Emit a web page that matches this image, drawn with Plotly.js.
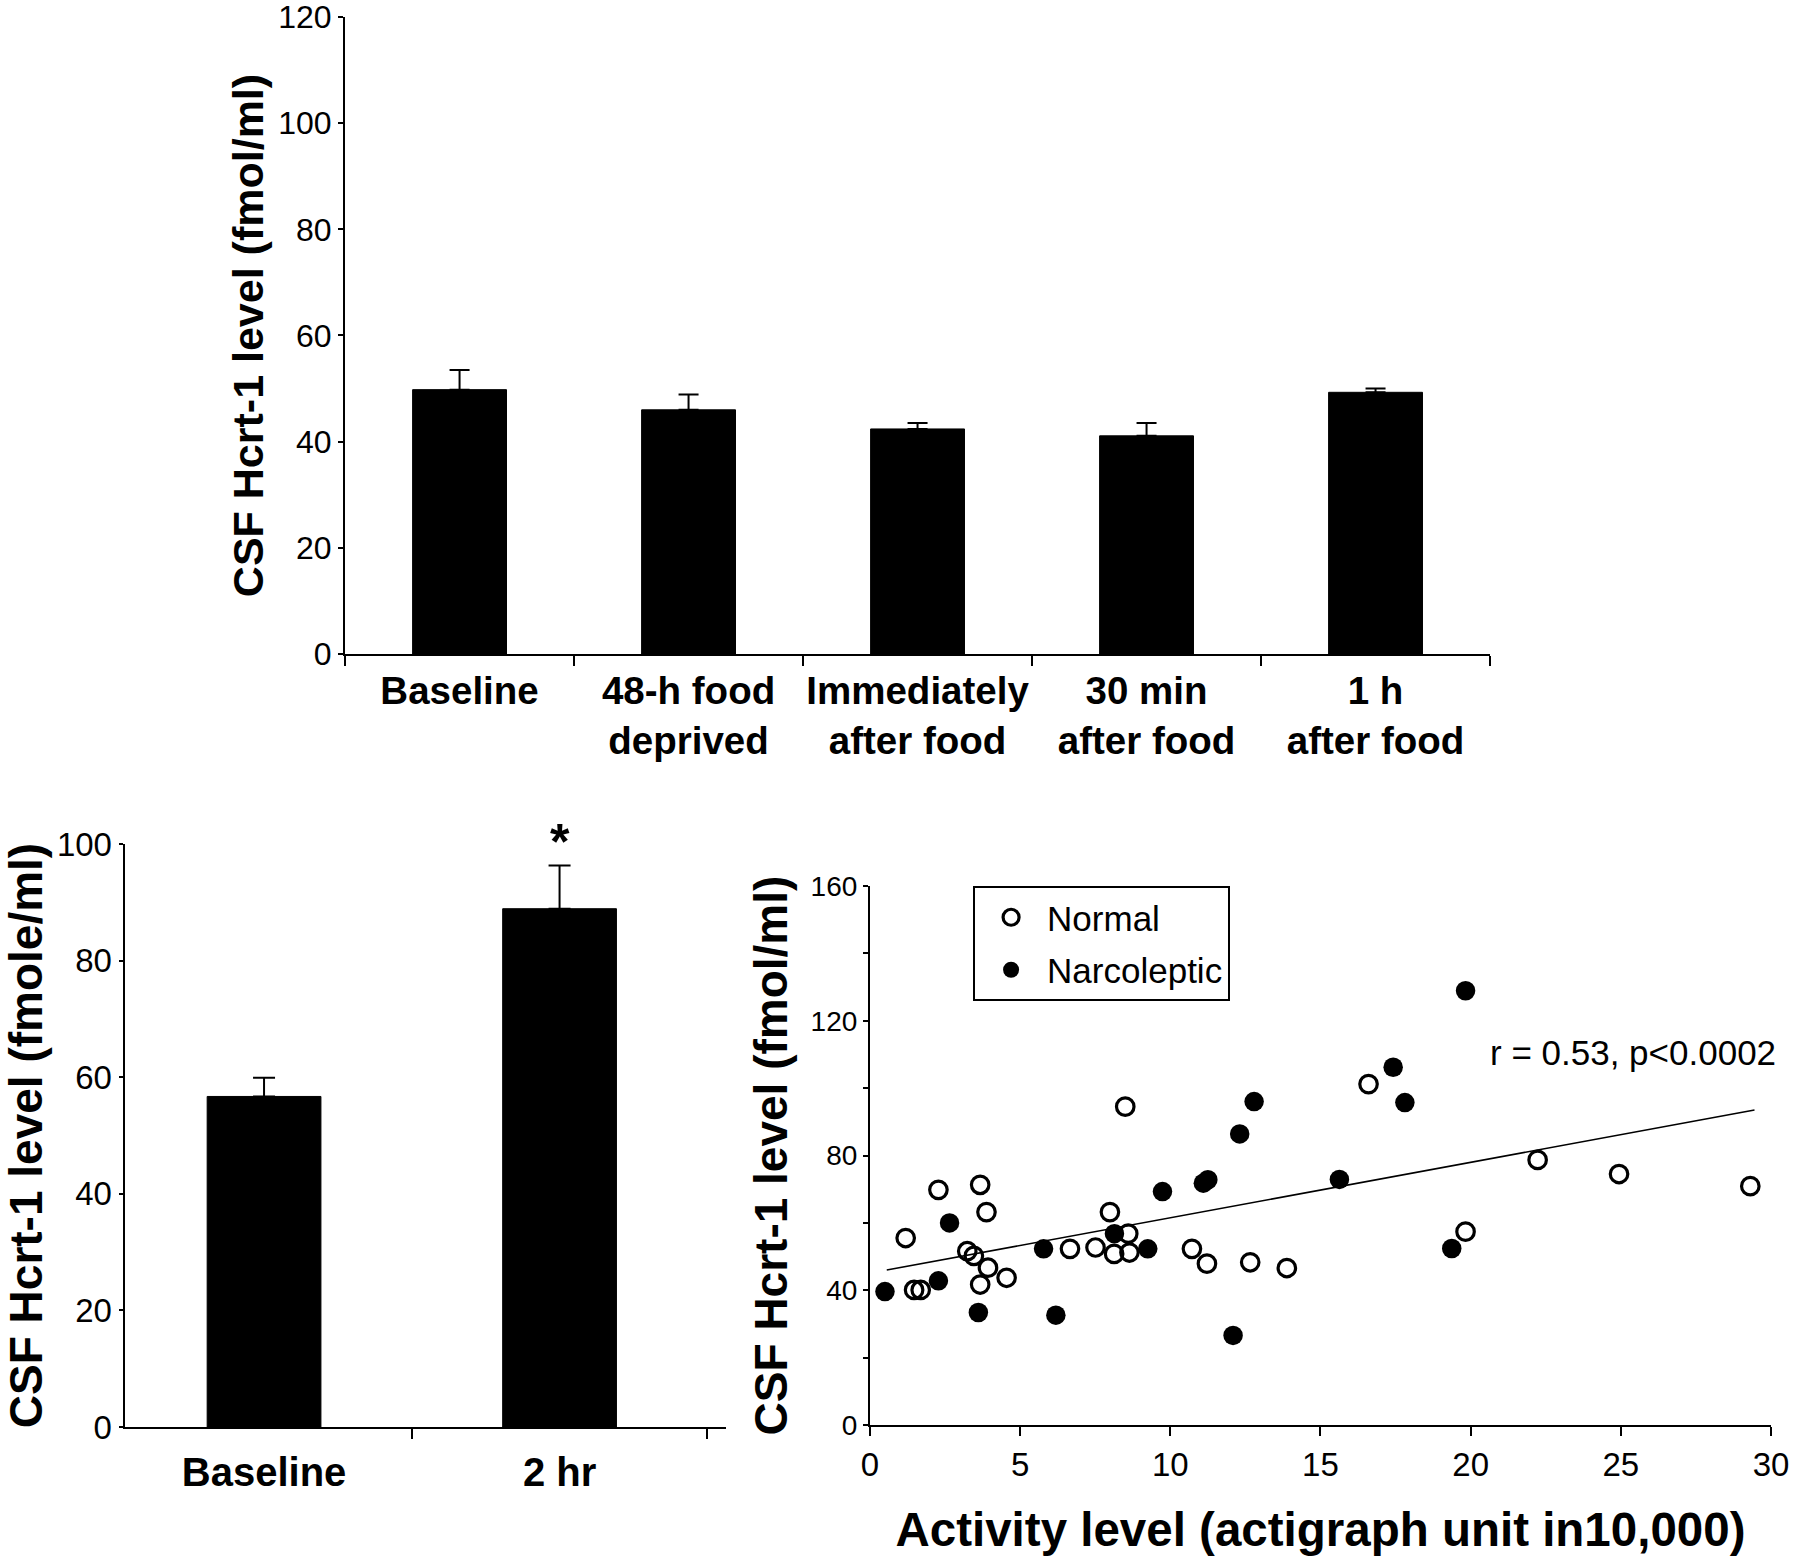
<!DOCTYPE html>
<html>
<head>
<meta charset="utf-8">
<script src="https://cdn.plot.ly/plotly-3.0.1.min.js"></script>
<style>html,body{margin:0;padding:0;background:#fff;}#chart{width:1800px;height:1567px;}</style>
</head>
<body>
<div id="chart"></div>
<script>
// ---- Top panel: feeding experiment ----
const topCategories = ["Baseline", "48-h food<br>deprived", "Immediately<br>after food", "30 min<br>after food", "1 h<br>after food"];
const topMeans = [49.8, 46.0, 42.4, 41.1, 49.3];
const topSEM = [3.7, 2.9, 1.1, 2.4, 0.7];
const topYTicks = [0, 20, 40, 60, 80, 100, 120];

// ---- Bottom-left panel: exercise ----
const exCategories = ["Baseline", "2 hr"];
const exMeans = [56.7, 88.9];
const exSEM = [3.2, 7.4];
const exYTicks = [0, 20, 40, 60, 80, 100];

// ---- Bottom-right panel: activity vs CSF Hcrt-1 ----
const normalActivity = [1.19, 1.47, 1.69, 2.28, 3.24, 3.46, 3.67, 3.67, 3.88, 3.93, 4.55, 6.66, 7.51, 7.99, 8.13, 8.50, 8.60, 8.64, 10.72, 11.22, 12.66, 13.88, 16.60, 19.83, 22.23, 24.94, 29.31];
const normalHcrt = [55.5, 40.1, 40.1, 69.8, 51.6, 50.2, 71.3, 41.7, 63.2, 46.7, 43.7, 52.3, 52.7, 63.2, 50.8, 94.5, 56.8, 51.2, 52.3, 47.9, 48.3, 46.6, 101.2, 57.4, 78.7, 74.5, 70.9];
const narcActivity = [0.50, 2.28, 2.65, 3.61, 5.78, 6.19, 8.14, 9.25, 9.74, 11.10, 11.25, 12.09, 12.31, 12.79, 15.63, 17.42, 17.81, 19.37, 19.83];
const narcHcrt = [39.6, 42.8, 60.0, 33.4, 52.3, 32.6, 56.8, 52.3, 69.3, 71.8, 72.8, 26.6, 86.4, 96.0, 72.9, 106.2, 95.7, 52.4, 128.9];
const fitActivity = [0.56, 29.45];
const fitHcrt = [46.0, 93.5];
const scatterYTicks = [0, 20, 40, 60, 80, 100, 120, 140, 160];
const scatterYTickText = ["0", "", "40", "", "80", "", "120", "", "160"];
const statText = "r = 0.53, p<0.0002";

const FONT = "Liberation Sans, Arial, Helvetica, sans-serif";
const zeros = a => a.map(() => 0);

const traces = [
  {
    type: "bar", x: topCategories, y: topMeans, xaxis: "x", yaxis: "y",
    width: 0.41, marker: {color: "#000", line: {color: "#000", width: 1}},
    error_y: {type: "data", symmetric: false, array: topSEM, arrayminus: zeros(topSEM), color: "#000", thickness: 2, width: 10},
    showlegend: false, hoverinfo: "x+y"
  },
  {
    type: "bar", x: exCategories, y: exMeans, xaxis: "x2", yaxis: "y2",
    width: 0.385, marker: {color: "#000", line: {color: "#000", width: 1}},
    error_y: {type: "data", symmetric: false, array: exSEM, arrayminus: zeros(exSEM), color: "#000", thickness: 2, width: 11},
    showlegend: false, hoverinfo: "x+y"
  },
  {
    type: "scatter", mode: "lines", x: fitActivity, y: fitHcrt, xaxis: "x3", yaxis: "y3",
    line: {color: "#000", width: 1.6}, showlegend: false, hoverinfo: "skip"
  },
  {
    type: "scatter", mode: "markers", name: "Normal", legendgroup: "normal", x: normalActivity, y: normalHcrt, xaxis: "x3", yaxis: "y3",
    marker: {symbol: "circle-open", size: 17.5, color: "#000", line: {width: 3.2, color: "#000"}}
  },
  {
    type: "scatter", mode: "markers", name: "Narcoleptic", legendgroup: "narc", x: narcActivity, y: narcHcrt, xaxis: "x3", yaxis: "y3",
    marker: {symbol: "circle", size: 19.5, color: "#000"}
  }
];

const axisCommon = {
  showline: true, linecolor: "#000", linewidth: 2, showgrid: false, zeroline: false,
  ticks: "outside", tickcolor: "#000", tickwidth: 2, fixedrange: true, ticklabeloverflow: "allow"
};

const layout = {
  width: 1800, height: 1567,
  margin: {l: 0, r: 0, t: 0, b: 0},
  paper_bgcolor: "#fff", plot_bgcolor: "#fff",
  font: {family: FONT, color: "#000"},
  bargap: 0,
  xaxis: Object.assign({}, axisCommon, {
    domain: [0.1917, 0.8278], anchor: "y", type: "category", range: [-0.5, 4.5],
    tickson: "boundaries", ticklen: 10, ticklabelstandoff: 2, tickangle: 0,
    tickfont: {family: FONT, size: 38.5, weight: "bold"}
  }),
  yaxis: Object.assign({}, axisCommon, {
    domain: [0.5826, 0.9892], anchor: "x", range: [0, 120], tickmode: "array", tickvals: topYTicks, ticklen: 5,
    tickfont: {family: FONT, size: 32},
    title: {text: "CSF Hcrt-1 level (fmol/ml)", font: {family: FONT, size: 43, weight: "bold"}, standoff: 1}
  }),
  xaxis2: Object.assign({}, axisCommon, {
    domain: [0.0692, 0.4033], anchor: "y2", type: "category", range: [-0.472, 1.563],
    tickson: "boundaries", ticklen: 10, ticklabelstandoff: 9, tickangle: 0,
    tickfont: {family: FONT, size: 40, weight: "bold"}
  }),
  yaxis2: Object.assign({}, axisCommon, {
    domain: [0.0893, 0.4614], anchor: "x2", range: [0, 100], tickmode: "array", tickvals: exYTicks, ticklen: 4,
    tickfont: {family: FONT, size: 33},
    title: {text: "CSF Hcrt-1 level (fmole/ml)", font: {family: FONT, size: 46, weight: "bold"}, standoff: 1}
  }),
  xaxis3: Object.assign({}, axisCommon, {
    domain: [0.4833, 0.9839], anchor: "y3", range: [0, 30], dtick: 5, ticklen: 9, tickangle: 0,
    tickfont: {family: FONT, size: 33},
    title: {text: "Activity level (actigraph unit in10,000)", font: {family: FONT, size: 47.5, weight: "bold"}, standoff: 31}
  }),
  yaxis3: Object.assign({}, axisCommon, {
    domain: [0.0906, 0.4346], anchor: "x3", range: [0, 160], tickmode: "array",
    tickvals: scatterYTicks, ticktext: scatterYTickText, ticklen: 5,
    tickfont: {family: FONT, size: 28},
    title: {text: "CSF Hcrt-1 level (fmol/ml)", font: {family: FONT, size: 46, weight: "bold"}, standoff: 9}
  }),
  showlegend: true,
  legend: {
    x: 0.5406, y: 0.4346, xanchor: "left", yanchor: "top",
    bordercolor: "#000", borderwidth: 2, bgcolor: "#fff",
    font: {family: FONT, size: 35, color: "#000"},
    itemsizing: "trace", itemwidth: 62, tracegroupgap: 4
  },
  annotations: [
    {xref: "x2", yref: "y2", x: "2 hr", y: 95.2, text: "*", showarrow: false,
     font: {family: FONT, size: 50, weight: "bold", color: "#000"}, yanchor: "bottom"},
    {xref: "x3", yref: "y3", x: 25.4, y: 110.7, text: statText, showarrow: false,
     font: {family: FONT, size: 35, color: "#000"}, xanchor: "center", yanchor: "middle"}
  ]
};

Plotly.newPlot("chart", traces, layout, {staticPlot: true, displayModeBar: false});
</script>
</body>
</html>
